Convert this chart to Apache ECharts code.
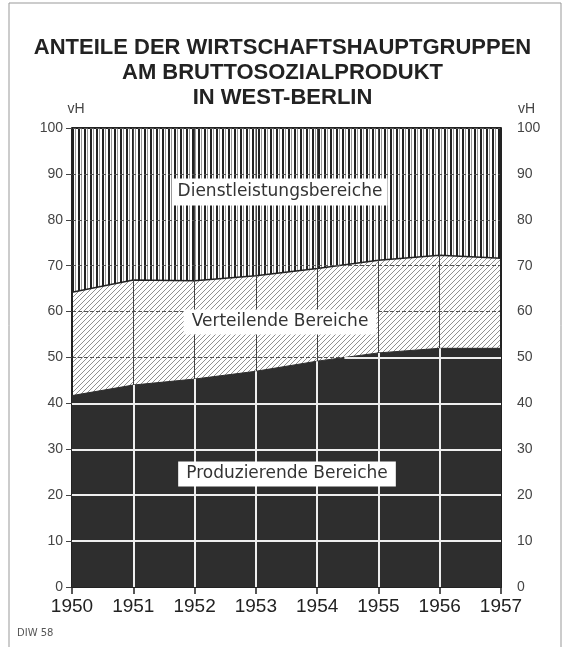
<!DOCTYPE html>
<html><head><meta charset="utf-8">
<script src="https://cdn.jsdelivr.net/npm/echarts@6/dist/echarts.min.js"></script>
<style>html,body{margin:0;padding:0;background:#fff}#c{width:565px;height:647px}</style>
</head><body><div id="c"></div>
<script>
// ---- data (shares in vH) ----
const years = [1950, 1951, 1952, 1953, 1954, 1955, 1956, 1957];
const produzierende = [41.7, 44.0, 45.3, 47.0, 49.2, 51.0, 52.0, 52.0];
const verteilende   = [22.5, 22.9, 21.4, 20.8, 20.2, 20.2, 20.3, 19.6];
const dienstleistung = [35.8, 33.1, 33.3, 32.2, 30.6, 28.8, 27.7, 28.4];
const yTicks = [0, 10, 20, 30, 40, 50, 60, 70, 80, 90, 100];
const seriesNames = ['Produzierende Bereiche', 'Verteilende Bereiche', 'Dienstleistungsbereiche'];
const titleText = 'ANTEILE DER WIRTSCHAFTSHAUPTGRUPPEN\nAM BRUTTOSOZIALPRODUKT\nIN WEST-BERLIN';

// ---- fill patterns ----
function makePattern(w, h, draw) {
  const c = document.createElement('canvas'); c.width = w; c.height = h;
  const g = c.getContext('2d'); g.fillStyle = '#fff'; g.fillRect(0, 0, w, h); draw(g); return c;
}
const stripe = makePattern(6, 8, g => {
  g.fillStyle = '#222'; g.fillRect(0, 0, 2, 8);
  g.fillStyle = '#9a9a9a'; g.fillRect(3, 0, 1, 8);
});
const hatch = makePattern(5, 5, g => {
  g.strokeStyle = '#858585'; g.lineWidth = 0.9; g.beginPath();
  g.moveTo(0, 5); g.lineTo(5, 0);
  g.moveTo(-1, 1); g.lineTo(1, -1);
  g.moveTo(4, 6); g.lineTo(6, 4);
  g.stroke();
});

// ---- white grid lines inside the dark area (derived from data) ----
const whiteLines = [];
for (let i = 1; i < years.length - 1; i++) {
  whiteLines.push([{ coord: [years[i], 0] }, { coord: [years[i], produzierende[i]] }]);
}
yTicks.filter(v => v > 0 && v < 100).forEach(v => {
  const segs = [];
  for (let i = 0; i < years.length - 1; i++) {
    const x0 = years[i], x1 = years[i + 1], a = produzierende[i], b = produzierende[i + 1];
    let lo, hi;
    if (a >= v && b >= v) { lo = x0; hi = x1; }
    else if (a < v && b < v) continue;
    else {
      const xc = x0 + (v - a) / (b - a) * (x1 - x0);
      if (a >= v) { lo = x0; hi = xc; } else { lo = xc; hi = x1; }
    }
    if (segs.length && Math.abs(segs[segs.length - 1][1] - lo) < 1e-9) segs[segs.length - 1][1] = hi;
    else segs.push([lo, hi]);
  }
  segs.forEach(s => whiteLines.push([{ coord: [s[0], v] }, { coord: [s[1], v] }]));
});

const yearLabels = years.map(String);

const chart = echarts.init(document.getElementById('c'), null, { renderer: 'canvas' });
chart.setOption({
  animation: false,
  title: {
    text: titleText, left: 'center', top: 30,
    textStyle: { fontFamily: 'Liberation Sans', fontWeight: 'bold', fontSize: 22, lineHeight: 25, color: '#222' }
  },
  grid: { left: 72, right: 64, top: 128, bottom: 60 },
  xAxis: [{
    type: 'category', data: yearLabels, boundaryGap: false, z: 3,
    axisLine: { lineStyle: { color: '#222', width: 2 } },
    axisTick: { show: true, length: 7, interval: 0, lineStyle: { color: '#222', width: 1.5 } },
    axisLabel: { margin: 10, fontSize: 19, color: '#222', fontFamily: 'Liberation Sans', interval: 0 },
    splitLine: { show: true, interval: 0, lineStyle: { color: '#444', width: 1 } }
  }, {
    type: 'value', min: years[0], max: years[years.length - 1], show: false
  }],
  yAxis: [{
    type: 'value', min: 0, max: 100, interval: 10, z: 3, position: 'left',
    name: 'vH', nameLocation: 'end', nameGap: 12,
    nameTextStyle: { fontSize: 14, color: '#444', fontFamily: 'Liberation Sans', padding: [0, 0, 0, 8] },
    axisLine: { show: true, lineStyle: { color: '#222', width: 2 } },
    axisTick: { show: true, length: 6, lineStyle: { color: '#444', width: 1 } },
    axisLabel: { margin: 9, fontSize: 14, color: '#444', fontFamily: 'Liberation Sans' },
    splitLine: { show: true, lineStyle: { color: '#555', width: 1, type: [4, 2] } }
  }, {
    type: 'value', min: 0, max: 100, interval: 10, z: 3, position: 'right',
    name: 'vH', nameLocation: 'end', nameGap: 12,
    nameTextStyle: { fontSize: 14, color: '#444', fontFamily: 'Liberation Sans', align: 'left', padding: [0, 0, 0, 17] },
    axisLine: { show: true, lineStyle: { color: '#222', width: 2 } },
    axisTick: { show: false },
    axisLabel: { margin: 16, fontSize: 14, color: '#444', fontFamily: 'Liberation Sans' },
    splitLine: { show: false }
  }],
  series: [{
    name: seriesNames[0], type: 'line', stack: 'total', z: 4, symbol: 'none', showSymbol: false,
    data: produzierende,
    lineStyle: { color: '#2e2e2e', width: 1 },
    areaStyle: { color: '#2e2e2e', opacity: 1 }
  }, {
    name: seriesNames[1], type: 'line', stack: 'total', z: 2, symbol: 'none', showSymbol: false,
    data: verteilende,
    lineStyle: { color: '#222', width: 1.5 },
    areaStyle: { color: { image: hatch, repeat: 'repeat' }, opacity: 1 }
  }, {
    name: seriesNames[2], type: 'line', stack: 'total', z: 2, symbol: 'none', showSymbol: false,
    data: dienstleistung,
    lineStyle: { color: '#222', width: 2 },
    areaStyle: { color: { image: stripe, repeat: 'repeat' }, opacity: 1 }
  }, {
    // invisible carrier on a hidden value x-axis for the white grid lines inside the dark area
    name: 'grid-white', type: 'line', xAxisIndex: 1, yAxisIndex: 0, z: 5, symbol: 'none', showSymbol: false,
    data: years.map((y, i) => [y, produzierende[i]]),
    lineStyle: { opacity: 0 }, silent: true,
    markLine: {
      silent: true, symbol: ['none', 'none'], z: 5, animation: false,
      label: { show: false },
      lineStyle: { color: '#eeeeee', width: 2, type: 'solid' },
      data: whiteLines
    }
  }],
  graphic: [
    { type: 'rect', silent: true, z: 0, shape: { x: 9, y: 3, width: 552, height: 660 },
      style: { fill: 'none', stroke: '#999', lineWidth: 1 } },
    { type: 'text', silent: true, z: 100, x: 280, y: 192,
      style: { text: seriesNames[2], font: '17px "DejaVu Sans"', fill: '#333', textAlign: 'center', textVerticalAlign: 'middle', align: 'center', verticalAlign: 'middle', backgroundColor: '#fff', padding: [5, 5] } },
    { type: 'text', silent: true, z: 100, x: 280, y: 322,
      style: { text: seriesNames[1], font: '17px "DejaVu Sans"', fill: '#333', textAlign: 'center', textVerticalAlign: 'middle', align: 'center', verticalAlign: 'middle', backgroundColor: '#fff', padding: [4, 8] } },
    { type: 'text', silent: true, z: 100, x: 287, y: 474,
      style: { text: seriesNames[0], font: '17px "DejaVu Sans"', fill: '#333', textAlign: 'center', textVerticalAlign: 'middle', align: 'center', verticalAlign: 'middle', backgroundColor: '#fff', padding: [4, 8] } },
    { type: 'text', silent: true, z: 100, left: 17, top: 628,
      style: { text: 'DIW 58', font: '10px "DejaVu Sans"', fill: '#555' } }
  ]
});
</script>
</body></html>
